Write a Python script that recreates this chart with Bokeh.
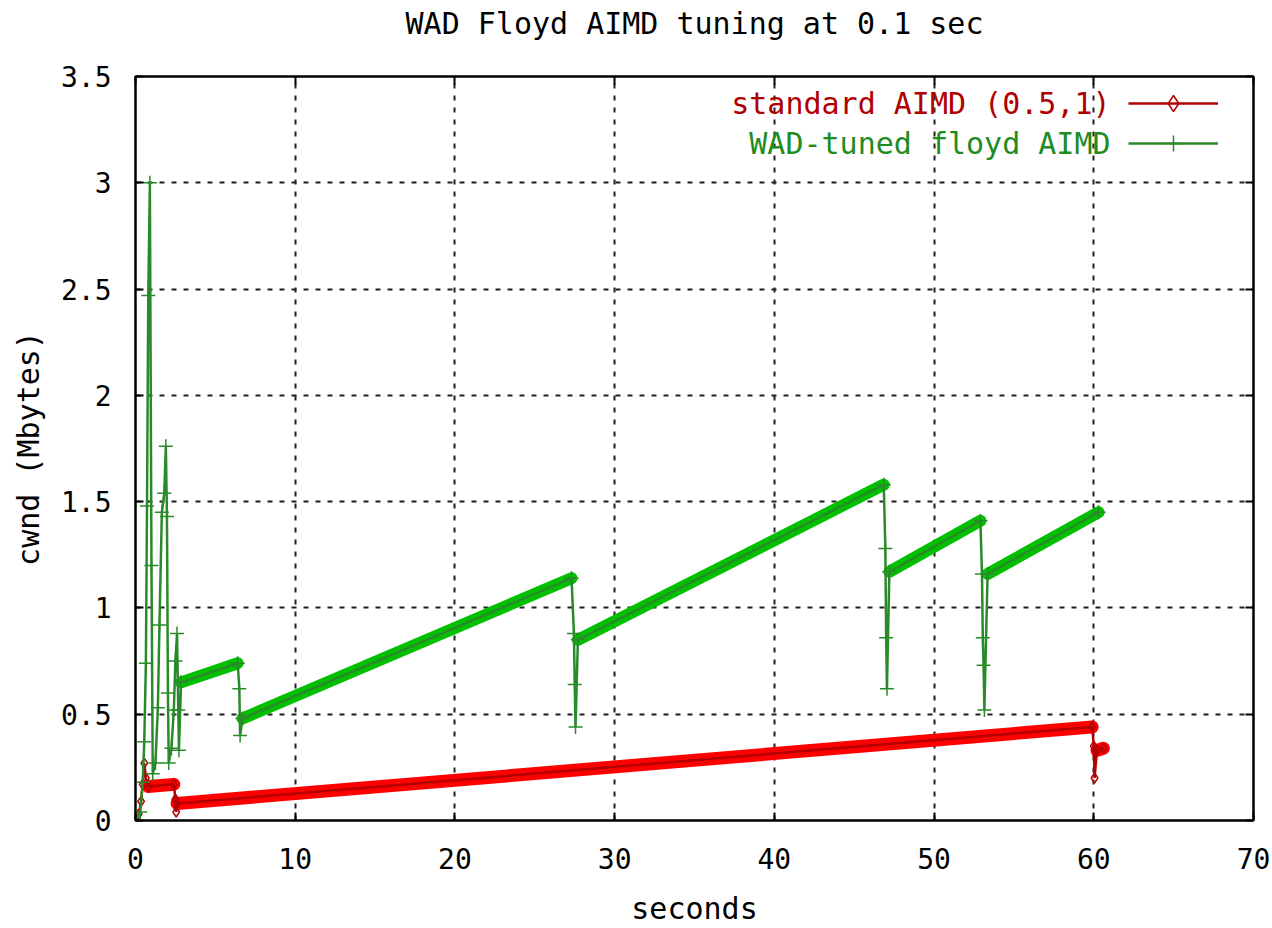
from bokeh.plotting import figure
from bokeh.models import (FixedTicker, LinearAxis, Range1d, Legend, LegendItem, Label)
from bokeh.embed import file_html
from bokeh.resources import INLINE

TITLE = "WAD Floyd AIMD tuning at 0.1 sec"
X_LABEL = "seconds"
Y_LABEL = "cwnd (Mbytes)"
SERIES_NAMES = ["standard AIMD (0.5,1)", "WAD-tuned floyd AIMD"]

x_ticks = [0, 10, 20, 30, 40, 50, 60, 70]
x_tick_labels = ["0", "10", "20", "30", "40", "50", "60", "70"]
y_ticks = [0, 0.5, 1, 1.5, 2, 2.5, 3, 3.5]
y_tick_labels = ["0", "0.5", "1", "1.5", "2", "2.5", "3", "3.5"]

# standard AIMD (0.5,1): sampled cwnd vertices (seconds, Mbytes)
red_x = [0.0, 0.2, 0.35, 0.45, 0.55, 0.65, 0.8, 2.4, 2.5, 2.55, 2.6, 59.9, 60.0, 60.05, 60.2, 60.6]
red_y = [0.0, 0.03, 0.09, 0.17, 0.27, 0.2, 0.16, 0.17, 0.1, 0.04, 0.08, 0.44, 0.35, 0.2, 0.33, 0.34]
# stretches where samples are so dense they merge into a thick band (start x, end x)
red_dense = [(0.8, 2.4), (2.6, 59.9), (60.2, 60.6)]

# WAD-tuned floyd AIMD
green_x = [0.0, 0.3, 0.45, 0.55, 0.65, 0.72, 0.8, 0.9, 1.0, 1.08, 1.25, 1.4, 1.5, 1.65, 1.8, 1.9,
           1.97, 2.03, 2.08, 2.25, 2.4, 2.5, 2.6, 2.68, 2.72, 2.85, 6.4, 6.5, 6.55, 6.7, 27.3,
           27.45, 27.5, 27.55, 27.7, 46.85, 46.95, 47.0, 47.05, 47.2, 52.9, 53.0, 53.05, 53.1,
           53.15, 53.35, 60.3]
green_y = [0.0, 0.04, 0.18, 0.37, 0.74, 1.48, 2.47, 3.0, 1.2, 0.22, 0.27, 0.53, 0.92, 1.45, 1.54, 1.76,
           1.43, 0.6, 0.27, 0.34, 0.52, 0.75, 0.88, 0.52, 0.33, 0.65, 0.74, 0.62, 0.4, 0.48, 1.14,
           0.88, 0.64, 0.44, 0.85, 1.58, 1.28, 0.86, 0.62, 1.17, 1.41, 1.16, 0.86, 0.73,
           0.52, 1.16, 1.45]
green_dense = [(2.85, 6.4), (6.7, 27.3), (27.7, 46.85), (47.2, 52.9), (53.35, 60.3)]

FONT = "DejaVu Sans Mono"
RED_BAND, RED_THIN = "#ff0000", "#b40000"
GREEN_BAND, GREEN_THIN = "#00c000", "#2a8a2a"
FRAME_W, FRAME_H = 1118, 744

p = figure(frame_width=FRAME_W, frame_height=FRAME_H, x_range=Range1d(0, 70), y_range=Range1d(0, 3.5),
           output_backend="svg", toolbar_location=None,
           min_border_left=135, min_border_right=19, min_border_top=76, min_border_bottom=108)
p.background_fill_color = "white"
p.border_fill_color = "white"
p.outline_line_color = "black"
p.outline_line_width = 2

x_bottom = p.xaxis[0]
y_left = p.yaxis[0]

def style_axis(ax, ticks, labels, show_labels=True):
    ax.ticker = FixedTicker(ticks=ticks)
    ax.major_tick_in = 8
    ax.major_tick_out = 0
    ax.minor_tick_line_color = None
    ax.major_tick_line_width = 2
    ax.axis_line_width = 2
    ax.axis_line_color = "black"
    ax.major_label_text_font = FONT
    if show_labels:
        ax.major_label_overrides = {t: l for t, l in zip(ticks, labels)}
        ax.major_label_text_font_size = "28px"
        ax.major_label_text_color = "black"
    else:
        ax.major_label_overrides = {t: "" for t in ticks}
        ax.major_label_text_color = None
        ax.major_label_standoff = 0

style_axis(x_bottom, x_ticks, x_tick_labels)
style_axis(y_left, y_ticks, y_tick_labels)
x_bottom.major_label_standoff = 27
y_left.major_label_standoff = 24
x_bottom.axis_label = X_LABEL
y_left.axis_label = Y_LABEL

ax_r = LinearAxis()
style_axis(ax_r, y_ticks, y_tick_labels, show_labels=False)
p.add_layout(ax_r, "right")
# mirrored ticks on top; the chart title sits above them
ax_t = LinearAxis(axis_label=TITLE)
style_axis(ax_t, x_ticks, x_tick_labels, show_labels=False)
p.add_layout(ax_t, "above")

for ax in (x_bottom, y_left, ax_t):
    ax.axis_label_text_font = FONT
    ax.axis_label_text_font_size = "30px"
    ax.axis_label_text_font_style = "normal"
    ax.axis_label_text_color = "black"
x_bottom.axis_label_standoff = 19
y_left.axis_label_standoff = 12
ax_t.axis_label_standoff = 36

p.xgrid.ticker = FixedTicker(ticks=x_ticks[1:-1])
p.ygrid.ticker = FixedTicker(ticks=y_ticks[1:-1])
for g in (p.xgrid[0], p.ygrid[0]):
    g.grid_line_color = "#222222"
    g.grid_line_width = 2
    g.grid_line_dash = "5 7"

def bands(xs, ys, dense):
    x0, y0, x1, y1 = [], [], [], []
    for a, b in dense:
        i, j = xs.index(a), xs.index(b)
        x0.append(xs[i]); y0.append(ys[i]); x1.append(xs[j]); y1.append(ys[j])
    return x0, y0, x1, y1

rx0, ry0, rx1, ry1 = bands(red_x, red_y, red_dense)
gx0, gy0, gx1, gy1 = bands(green_x, green_y, green_dense)

p.segment(rx0, ry0, rx1, ry1, line_width=13, line_color=RED_BAND, line_cap="round")
p.segment(gx0, gy0, gx1, gy1, line_width=12, line_color=GREEN_BAND, line_cap="round")

r_line = p.line(red_x, red_y, line_width=2.5, line_color=RED_THIN)
r_pts = p.scatter(red_x, red_y, marker="diamond", size=10, fill_alpha=0,
                  line_color=RED_THIN, line_width=1.5)
g_line = p.line(green_x, green_y, line_width=2.5, line_color=GREEN_THIN)
g_pts = p.scatter(green_x, green_y, marker="cross", size=14, line_color=GREEN_THIN, line_width=1.5)

legend = Legend(items=[LegendItem(label=" ", renderers=[r_line, r_pts]),
                       LegendItem(label=" ", renderers=[g_line, g_pts])],
                location=(993, 657), padding=0, spacing=0, margin=0,
                glyph_width=90, glyph_height=40, label_height=40, label_width=1,
                label_standoff=0, label_text_color=None,
                border_line_color=None, background_fill_alpha=0)
p.add_layout(legend, "center")

p.add_layout(Label(x=975, y=717, x_units="screen", y_units="screen", text=SERIES_NAMES[0],
                   text_align="right", text_baseline="middle", text_font=FONT,
                   text_font_size="30px", text_color="#b00000"))
p.add_layout(Label(x=975, y=677, x_units="screen", y_units="screen", text=SERIES_NAMES[1],
                   text_align="right", text_baseline="middle", text_font=FONT,
                   text_font_size="30px", text_color="#1e8c1e"))

open("out.html", "w").write(file_html(p, INLINE))
